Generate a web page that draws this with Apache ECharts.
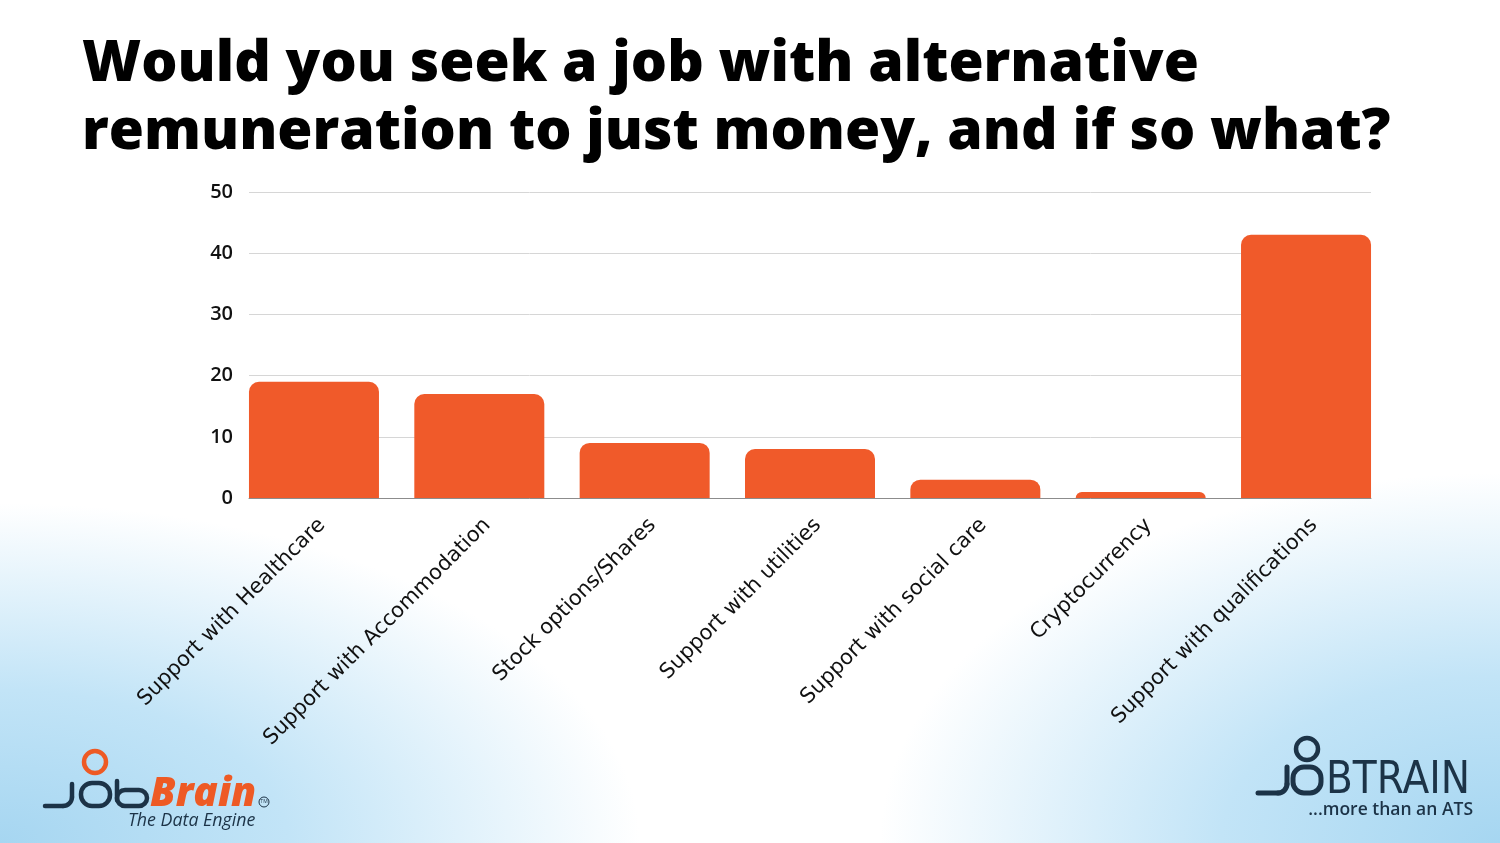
<!DOCTYPE html>
<html><head><meta charset="utf-8">
<script src="https://cdn.jsdelivr.net/npm/echarts@6/dist/echarts.min.js"></script>
<style>
html,body{margin:0;padding:0;width:1500px;height:843px;overflow:hidden;}
body{background:
 radial-gradient(ellipse 640px 340px at 0px 843px, #a6d6f1 0%, #c2e4f7 45%, rgba(255,255,255,0) 100%),
 radial-gradient(ellipse 620px 370px at 1500px 843px, #a6d6f1 0%, #c2e4f7 45%, rgba(255,255,255,0) 100%),
 #ffffff;}
#c{width:1500px;height:843px;}
</style></head>
<body><div id="c"></div>
<script>
const titleLines = ["Would you seek a job with alternative", "remuneration to just money, and if so what?"];
const categories = ["Support with Healthcare","Support with Accommodation","Stock options/Shares","Support with utilities","Support with social care","Cryptocurrency","Support with qualifications"];
const values = [19, 17, 9, 8, 3, 1, 43];
const yTicks = {min: 0, max: 50, interval: 10};

const navy = '#1c3347', orange = '#EE5A24';
const st = (c, w) => ({fill: 'none', stroke: c, lineWidth: w, lineCap: 'round'});
const chart = echarts.init(document.getElementById('c'), null, {renderer: 'canvas'});
chart.setOption({
  backgroundColor: 'transparent',
  title: {
    text: titleLines.join('\n'),
    left: 77, top: 26,
    textStyle: {fontFamily: 'Open Sans', fontWeight: 800, fontSize: 57, lineHeight: 68, color: '#000'}
  },
  grid: [
    {left: 249, right: 129, top: 192, bottom: 345},
    {left: 231.3, right: 111.3, top: 192, bottom: 345},
    {left: 239.3, right: 103.3, top: 192, bottom: 345}
  ],
  xAxis: [
    {gridIndex: 0, type: 'category', data: categories,
     axisTick: {show: false}, axisLabel: {show: false},
     axisLine: {lineStyle: {color: '#8c8c8c', width: 1}}},
    {gridIndex: 1, type: 'category', data: categories,
     axisTick: {show: false}, axisLine: {show: false}, axisLabel: {show: false}},
    {gridIndex: 2, type: 'category', data: categories,
     axisTick: {show: false}, axisLine: {show: false},
     axisLabel: {rotate: 45, interval: 0, margin: 24, fontFamily: 'DejaVu Sans', fontSize: 21, color: '#111'}}
  ],
  yAxis: [
    {gridIndex: 0, type: 'value', min: yTicks.min, max: yTicks.max, interval: yTicks.interval,
     axisLine: {show: false}, axisTick: {show: false},
     splitLine: {lineStyle: {color: '#d6d6d6', width: 1}},
     axisLabel: {margin: 16, fontFamily: 'Open Sans', fontWeight: 600, fontSize: 20, color: '#111'}},
    {gridIndex: 1, type: 'value', min: yTicks.min, max: yTicks.max, interval: yTicks.interval,
     show: false, splitLine: {show: false}},
    {gridIndex: 2, type: 'value', min: yTicks.min, max: yTicks.max, interval: yTicks.interval,
     show: false, splitLine: {show: false}}
  ],
  series: [{
    type: 'bar', data: values, xAxisIndex: 1, yAxisIndex: 1, barWidth: 130,
    itemStyle: {color: '#F05A2A', borderRadius: [10, 10, 0, 0]},
    silent: true
  }],
  graphic: [
    // JobBrain logo
    {type: 'circle', shape: {cx: 95, cy: 762, r: 11}, style: st(orange, 4.5)},
    {type: 'line', shape: {x1: 45, y1: 806, x2: 63, y2: 806}, style: st(navy, 4.5)},
    {type: 'arc', shape: {cx: 63, cy: 797, r: 9, startAngle: 0, endAngle: Math.PI / 2, clockwise: true}, style: st(navy, 4.5)},
    {type: 'line', shape: {x1: 72, y1: 797, x2: 72, y2: 784}, style: st(navy, 4.5)},
    {type: 'rect', shape: {x: 81, y: 783, width: 29, height: 23, r: 11}, style: st(navy, 4.5)},
    {type: 'line', shape: {x1: 117, y1: 781, x2: 117, y2: 800}, style: st(navy, 4.5)},
    {type: 'rect', shape: {x: 117, y: 790, width: 30, height: 16, r: 8}, style: st(navy, 4.5)},
    {type: 'text', x: 150, y: 815, style: {text: 'Brain', font: 'italic 800 40.5px "Open Sans"', fill: orange, verticalAlign: 'bottom'}},
    {type: 'circle', shape: {cx: 264, cy: 802, r: 5}, style: {fill: 'none', stroke: navy, lineWidth: 1}},
    {type: 'text', x: 264, y: 802, style: {text: 'TM', font: '5px "Open Sans"', fill: navy, align: 'center', verticalAlign: 'middle'}},
    {type: 'text', x: 128, y: 812, style: {text: 'The Data Engine', font: 'italic 17.8px "Open Sans"', fill: navy}},
    // JobTrain logo
    {type: 'circle', shape: {cx: 1307, cy: 749, r: 11}, style: st(navy, 4.5)},
    {type: 'line', shape: {x1: 1258, y1: 793, x2: 1278, y2: 793}, style: st(navy, 5)},
    {type: 'arc', shape: {cx: 1278, cy: 784, r: 9, startAngle: 0, endAngle: Math.PI / 2, clockwise: true}, style: st(navy, 5)},
    {type: 'line', shape: {x1: 1287, y1: 784, x2: 1287, y2: 767}, style: st(navy, 5)},
    {type: 'rect', shape: {x: 1293, y: 767, width: 28, height: 26, r: 11}, style: st(navy, 5)},
    {type: 'text', x: 1326, y: 804, scaleX: 0.87, style: {text: 'BTRAIN', font: '45px "DejaVu Sans"', fill: navy, verticalAlign: 'bottom'}},
    {type: 'text', x: 1473, y: 801, style: {text: '...more than an ATS', font: '600 17.5px "Open Sans"', fill: navy, align: 'right'}}
  ]
});
</script></body></html>
